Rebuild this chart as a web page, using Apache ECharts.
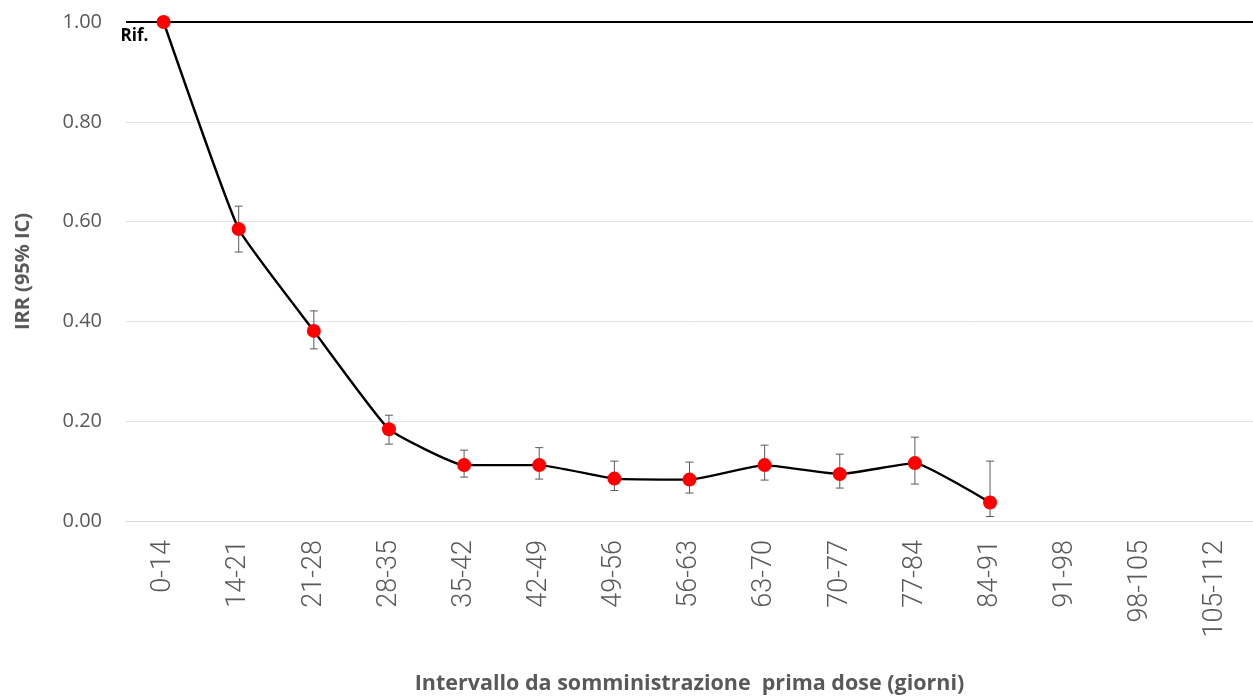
<!DOCTYPE html>
<html>
<head>
<meta charset="utf-8">
<script src="https://cdn.jsdelivr.net/npm/echarts@6/dist/echarts.min.js"></script>
<style>
  html, body { margin: 0; padding: 0; background: #fff; }
  #chart { width: 1253px; height: 697px; }
</style>
</head>
<body>
<div id="chart"></div>
<script>
const categories = ['0-14', '14-21', '21-28', '28-35', '35-42', '42-49', '49-56', '56-63',
    '63-70', '70-77', '77-84', '84-91', '91-98', '98-105', '105-112'];
const irr = [1.00, 0.585, 0.381, 0.184, 0.112, 0.112, 0.085, 0.083, 0.112, 0.094, 0.116, 0.037];
const ciLow = [null, 0.539, 0.345, 0.154, 0.088, 0.084, 0.061, 0.056, 0.082, 0.066, 0.074, 0.009];
const ciHigh = [null, 0.631, 0.421, 0.212, 0.142, 0.147, 0.120, 0.118, 0.152, 0.134, 0.168, 0.120];
const yTicks = [0, 0.2, 0.4, 0.6, 0.8, 1.0];

const chart = echarts.init(document.getElementById('chart'));

// barre di errore (IC 95%)
const errorData = [];
ciLow.forEach((lo, i) => {
    if (lo != null) errorData.push([i, lo, ciHigh[i]]);
});

const grey = '#595959';
const font = '"Open Sans", "Noto Sans", sans-serif';

const option = {
    backgroundColor: '#fff',
    animation: false,
    grid: { left: 126, right: 0, top: 22, bottom: 176, outerBoundsMode: 'none', containLabel: false },
    xAxis: {
        type: 'category',
        data: categories,
        boundaryGap: true,
        axisLine: { lineStyle: { color: '#d9d9d9', width: 1 } },
        axisTick: { show: false },
        axisLabel: { rotate: 90, fontSize: 27, fontWeight: 300, color: grey, fontFamily: 'Roboto, "Open Sans", sans-serif', margin: 19 },
        name: 'Intervallo da somministrazione  prima dose (giorni)',
        nameLocation: 'middle',
        nameGap: 152,
        nameTextStyle: { fontSize: 21.5, fontWeight: 'bold', color: grey, fontFamily: font }
    },
    yAxis: {
        type: 'value',
        min: 0,
        max: 1,
        interval: 0.2,
        axisLine: { show: false },
        axisTick: { show: false },
        splitLine: { lineStyle: { color: '#e3e3e3', width: 1 } },
        axisLabel: {
            fontSize: 20, color: grey, fontFamily: font, margin: 24,
            formatter: v => yTicks.some(t => Math.abs(t - v) < 1e-9) ? v.toFixed(2) : ''
        },
        name: 'IRR (95% IC)',
        nameLocation: 'middle',
        nameGap: 93,
        nameTextStyle: { fontSize: 20, fontWeight: 'bold', color: grey, fontFamily: font }
    },
    series: [
        {
            type: 'line',
            data: irr,
            smooth: 0.12,
            symbol: 'circle',
            symbolSize: 14,
            lineStyle: { color: '#000', width: 2.4 },
            itemStyle: { color: '#ff0000' },
            z: 3,
            label: {
                show: true,
                formatter: p => p.dataIndex === 0 ? 'Rif.' : '',
                position: [-36, 13],
                fontSize: 17,
                fontWeight: 'bold',
                color: '#000',
                fontFamily: font
            },
            markLine: {
                silent: true,
                symbol: 'none',
                label: { show: false },
                lineStyle: { color: '#000', width: 2, type: 'solid' },
                data: [{ yAxis: 1 }],
                z: 1
            }
        },
        {
            type: 'custom',
            data: errorData,
            z: 2,
            renderItem: (params, api) => {
                const x = api.value(0);
                const lo = api.coord([x, api.value(1)]);
                const hi = api.coord([x, api.value(2)]);
                const cap = 4;
                const style = { stroke: grey, lineWidth: 1 };
                return {
                    type: 'group',
                    children: [
                        { type: 'line', shape: { x1: lo[0], y1: lo[1], x2: hi[0], y2: hi[1] }, style },
                        { type: 'line', shape: { x1: hi[0] - cap, y1: hi[1], x2: hi[0] + cap, y2: hi[1] }, style },
                        { type: 'line', shape: { x1: lo[0] - cap, y1: lo[1], x2: lo[0] + cap, y2: lo[1] }, style }
                    ]
                };
            }
        }
    ]
};

chart.setOption(option);
</script>
</body>
</html>
